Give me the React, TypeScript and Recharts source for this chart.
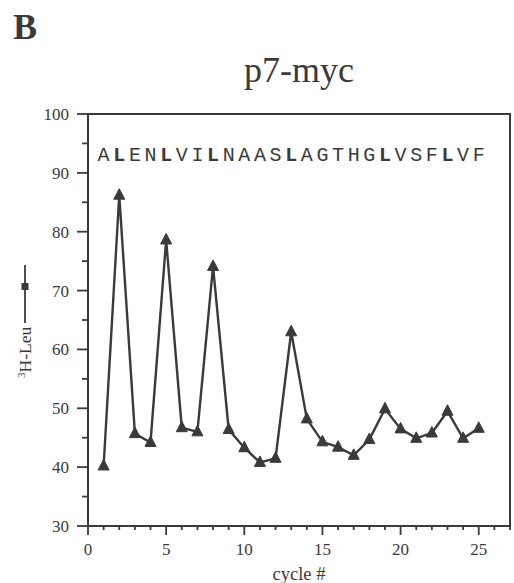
import { LineChart, Line, XAxis, YAxis, ReferenceArea, LabelList } from 'recharts'

const cycles = [1, 2, 3, 4, 5, 6, 7, 8, 9, 10, 11, 12, 13, 14, 15, 16, 17, 18, 19, 20, 21, 22, 23, 24, 25]
const leuCounts = [40.2, 86.2, 45.7, 44.2, 78.6, 46.7, 46, 74.1, 46.4, 43.3, 40.8, 41.5, 63, 48.2, 44.3, 43.4, 42, 44.7, 49.9, 46.5, 44.9, 45.8, 49.5, 44.9, 46.6]
const residues = 'ALENLVILNAASLAGTHGLVSFLVF'.split('')
const xTicks = Array.from({ length: 28 }, (_, i) => i)
const yTicks = [30, 35, 40, 45, 50, 55, 60, 65, 70, 75, 80, 85, 90, 95, 100]

const data = cycles.map((c, i) => ({ cycle: c, leu: leuCounts[i], res: residues[i] }))

const ink = '#3a3a3a'
const serif = '"Liberation Serif", "Times New Roman", serif'

const Triangle = (props: any) => {
  const { cx, cy } = props
  if (cx == null || cy == null) return null
  return <path d={`M${cx},${cy - 6.5} L${cx + 5.5},${cy + 4} L${cx - 5.5},${cy + 4} Z`} fill={ink} stroke={ink} strokeWidth={1} />
}

const XTick = (props: any) => {
  const { x, y, payload } = props
  const major = payload.value % 5 === 0
  return (
    <g>
      <line x1={x} x2={x} y1={y} y2={y + (major ? 9 : 4)} stroke={ink} strokeWidth={1.8} />
      {major && (
        <text x={x} y={y + 29} textAnchor="middle" style={{ fontSize: 17, fontFamily: serif }} fill={ink}>
          {payload.value}
        </text>
      )}
    </g>
  )
}

const YTick = (props: any) => {
  const { x, y, payload } = props
  const major = payload.value % 10 === 0
  return (
    <g>
      <line x1={x - (major ? 11 : 6)} x2={x} y1={y} y2={y} stroke={ink} strokeWidth={1.8} />
      {major && (
        <text x={x - 19} y={y + 6} textAnchor="end" style={{ fontSize: 17, fontFamily: serif }} fill={ink}>
          {payload.value}
        </text>
      )}
    </g>
  )
}

const YLabel = () => (
  <g transform="translate(31, 378) rotate(-90)">
    <text x={0} y={0} style={{ fontSize: 17.5, fontFamily: serif }} fill={ink}>
      <tspan style={{ fontSize: 11 }} dy={-6}>3</tspan>
      <tspan dy={6}>H-Leu</tspan>
    </text>
    <line x1={55} x2={113} y1={-6} y2={-6} stroke={ink} strokeWidth={1.8} />
    <rect x={88} y={-9.5} width={7} height={7} fill={ink} />
  </g>
)

const Residue = (props: any) => {
  const { x, value } = props
  return (
    <text
      x={x}
      y={161}
      textAnchor="middle"
      style={{ fontSize: 20, fontFamily: '"Liberation Mono", "Courier New", monospace', fontWeight: value === 'L' ? 'bold' : 'normal' }}
      fill={ink}
    >
      {value}
    </text>
  )
}

export default function App() {
  return (
    <div style={{ position: 'absolute', left: 0, top: 0, width: 514, height: 583, background: '#fff' }}>
      <div style={{ position: 'absolute', left: 13, top: 6, fontFamily: serif, fontWeight: 'bold', fontSize: 36, color: ink }}>B</div>
      <div style={{ position: 'absolute', left: 88, width: 422, top: 49, textAlign: 'center', fontFamily: serif, fontSize: 36, color: ink }}>p7-myc</div>
      <LineChart width={514} height={583} data={data} margin={{ top: 114, right: 4, bottom: 0, left: 0 }}>
        <ReferenceArea x1={0} x2={27} y1={30} y2={100} fill="none" stroke={ink} strokeWidth={2} ifOverflow="visible" />
        <XAxis
          dataKey="cycle"
          type="number"
          domain={[0, 27]}
          ticks={xTicks}
          interval={0}
          height={57}
          tickSize={0}
          tickMargin={0}
          tickLine={false}
          tick={<XTick />}
          axisLine={{ stroke: ink, strokeWidth: 2 }}
          label={{ value: 'cycle #', position: 'insideBottom', offset: 3, fontSize: 18.5, fontFamily: serif, fill: ink }}
        />
        <YAxis
          type="number"
          domain={[30, 100]}
          ticks={yTicks}
          interval={0}
          width={88}
          tickSize={0}
          tickMargin={0}
          tickLine={false}
          tick={<YTick />}
          axisLine={{ stroke: ink, strokeWidth: 2 }}
          label={<YLabel />}
        />
        <Line
          dataKey="leu"
          stroke={ink}
          strokeWidth={2.4}
          dot={<Triangle />}
          activeDot={false}
          isAnimationActive={false}
        >
          <LabelList dataKey="res" content={<Residue />} />
        </Line>
      </LineChart>
    </div>
  )
}
